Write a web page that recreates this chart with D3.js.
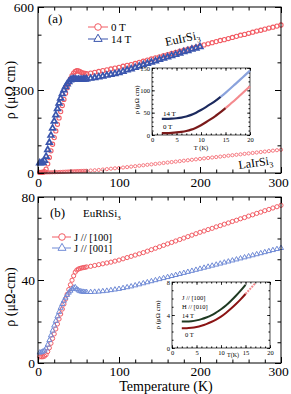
<!DOCTYPE html>
<html>
<head>
<meta charset="utf-8">
<script src="https://cdn.jsdelivr.net/npm/d3@7"></script>
<style>
  body { margin: 0; background: #fff; }
  svg { display: block; }
  text { font-family: "Liberation Serif", "Times New Roman", serif; }
</style>
</head>
<body>
<script>
// temperature grid (K) shared by the main curves
var temps = [2,4,6,8,10,12,14,16,18,20,22,24,26,28,30,32,34,36,38,40,42,44,46,48,50,52,54,56,58,60,
  65,70,75,80,85,90,95,100,105,110,115,120,125,130,135,140,145,150,155,160,165,170,175,180,185,190,195,200,
  205,210,215,220,225,230,235,240,245,250,255,260,265,270,275,280,285,290,295,300];

// (a) EuIrSi3, 0 T
var euIr0T = [2,2,3,5,14,33,56,80,104,128,152,176,199,222,244,266,288,308,326,340,352,361,367,370,369,366,363,361,360,359,
  361,364,367,370,373,376,379,382,386,389,392,396,400,404,408,412,416,420,424,428,432,436,440,444,
  448,451,455,459,463,467,471,475,479,482,486,490,494,498,501,505,509,513,516,520,524,527,531,535];
// (a) EuIrSi3, 14 T (up to 200 K)
var euIr14T = [36,36,38,45,60,84,110,136,162,187,210,232,252,270,286,300,312,322,330,336,339,340,339,338,338,338,338,339,339,340,
  342,344,347,350,353,356,359,362,367,372,376,381,386,391,396,400,405,410,415,419,424,428,433,438,442,447,451,456];
// (a) LaIrSi3
var laIr = [2,2,2,2,2.1,2.2,2.3,2.5,2.7,2.9,3.1,3.3,3.5,3.8,4.1,4.4,4.7,5,5.3,5.6,5.9,6.2,6.5,6.8,7,7.2,7.4,7.6,7.8,8,
  9,10,11,12.5,14,15.5,17,18,19.7,21.3,23,24.6,26.3,27.9,29.6,31.2,32.9,34.5,36.2,37.8,39.5,41.1,42.8,44.4,
  46.1,47.7,49.4,51,52.7,54.3,56,57.6,59.3,60.9,62.6,64.2,65.9,67.5,69.2,70.8,72.5,74.1,75.8,77.4,79.1,80.7,82.4,84];

// (b) EuRhSi3, J // [100] and J // [001]
var euRh100 = [3,3,3,3.3,4,5.5,7.3,9.5,11.8,14,16.4,18.8,21.2,23.6,26,28.4,30.8,33.1,35.4,37.7,39.9,42,43.8,44.8,45.3,45.6,45.8,46,46.1,46.3,
  46.6,47,47.4,47.8,48.2,48.6,49.1,49.6,50.2,50.8,51.4,52,52.6,53.2,53.9,54.6,55.3,56,56.7,57.4,58.1,58.8,59.5,60.2,
  60.9,61.6,62.3,63,63.6,64.3,64.9,65.6,66.2,66.9,67.5,68.2,68.8,69.5,70.1,70.8,71.4,72.1,72.7,73.4,74,74.7,75.3,76];
var euRh001 = [5,5.2,5.5,6,7,8.8,11,13.3,15.6,18,20.3,22.5,24.6,26.6,28.4,30,31.5,32.8,33.9,34.8,35.6,36.3,36.5,35.6,35,34.6,34.4,34.3,34.2,34.2,
  34.2,34.3,34.4,34.6,34.8,35.1,35.4,35.7,36.1,36.5,36.9,37.4,37.9,38.4,38.9,39.4,39.9,40.4,40.9,41.4,41.9,42.4,42.9,43.4,
  43.9,44.4,44.9,45.4,45.9,46.4,46.9,47.4,47.9,48.4,48.9,49.4,49.9,50.4,50.9,51.4,51.9,52.4,52.9,53.4,53.9,54.4,54.9,55.4];

// insets, low temperature
var tInset = [2,3,4,5,6,7,8,9,10,11,12,13,14,15,16,17,18,19,20];
var insA14T = [36,36,36.5,37.5,39,41.5,45,50,56,62.5,69.5,77,85.5,94.5,104,114,124,134,144];
var insA0T = [4,4.2,4.8,5.7,7,9,12,16.5,22,28.5,35.5,43,51,60,69.5,79,89,99,109];
var insB14T = [3.2,3.2,3.25,3.35,3.5,3.7,3.95,4.3,4.7,5.15,5.7,6.3,6.95,7.65];
var insB0T = [2.4,2.4,2.45,2.55,2.7,2.9,3.15,3.45,3.8,4.25,4.75,5.3,5.9,6.55,7.2,7.85];

var xTicks = [0,100,200,300];
var yTicksA = [0,300,600];
var yTicksB = [0,40,80];
var insXTicks = [0,5,10,15,20];

var red = "#f25c64", blue = "#3a55ad", blueB = "#6f8ad6";

var svg = d3.select("body").append("svg").attr("width", 291).attr("height", 394);

var x = d3.scaleLinear().domain([0, 300]).range([38, 281]);
var yA = d3.scaleLinear().domain([0, 600]).range([173, 7]);
var yB = d3.scaleLinear().domain([0, 80]).range([363, 197]);

// draws a box with inward ticks on all four sides
function boxAxes(g, xs, ys, o) {
  var x0 = xs.range()[0], x1 = xs.range()[1], y0 = ys.range()[0], y1 = ys.range()[1];
  g.append("rect").attr("x", x0).attr("y", y1).attr("width", x1 - x0).attr("height", y0 - y1)
    .attr("fill", o.fill || "none").attr("stroke", "#000").attr("stroke-width", o.sw || 1);
  var parts = [
    [d3.axisBottom(xs), "translate(0," + y0 + ")", o.xMajor, o.xMinor, o.xLabels],
    [d3.axisTop(xs), "translate(0," + y1 + ")", o.xMajor, o.xMinor, false],
    [d3.axisLeft(ys), "translate(" + x0 + ",0)", o.yMajor, o.yMinor, true],
    [d3.axisRight(ys), "translate(" + x1 + ",0)", o.yMajor, o.yMinor, false]
  ];
  parts.forEach(function (p) {
    g.append("g").attr("transform", p[1])
      .call(p[0].tickValues(p[3]).tickSize(-o.minor).tickFormat(""))
      .call(function (s) { s.select(".domain").remove(); });
    var ax = g.append("g").attr("transform", p[1])
      .call(p[0].tickValues(p[2]).tickSize(-o.major).tickPadding(o.pad).tickFormat(p[4] ? d3.format("d") : ""));
    ax.select(".domain").remove();
    ax.attr("font-family", "Liberation Serif").attr("font-size", o.fs);
    ax.selectAll("line").attr("stroke-width", o.sw || 1);
  });
}

function circles(g, xs, ys, tv, vals, r, col, sw) {
  g.selectAll(null).data(vals).enter().append("circle")
    .attr("cx", function (d, i) { return xs(tv[i]); })
    .attr("cy", function (d) { return ys(d); })
    .attr("r", r).attr("fill", "none").attr("stroke", col).attr("stroke-width", sw);
}
function triangles(g, xs, ys, tv, vals, size, col, sw) {
  var sym = d3.symbol().type(d3.symbolTriangle).size(size);
  g.selectAll(null).data(vals).enter().append("path")
    .attr("d", sym)
    .attr("transform", function (d, i) { return "translate(" + xs(tv[i]) + "," + ys(d) + ")"; })
    .attr("fill", "none").attr("stroke", col).attr("stroke-width", sw);
}

// ---------- panel (a) ----------
var ga = svg.append("g");
circles(ga, x, yA, temps, laIr, 1.6, red, 0.8);
circles(ga, x, yA, temps, euIr0T, 2.1, red, 1.1);
triangles(ga, x, yA, temps, euIr14T, 14, blue, 1.7);
boxAxes(ga, x, yA, { xMajor: xTicks, xMinor: d3.range(0, 301, 20), yMajor: yTicksA, yMinor: d3.range(0, 601, 100),
  major: 6, minor: 3.5, pad: 4, fs: 13.5, xLabels: true });
ga.selectAll(".tick text").filter(function (d) { return d === 300 && this.getAttribute("dy") === "0.71em"; }).attr("dx", -3);

ga.append("text").attr("x", 48).attr("y", 23).attr("font-size", 13).text("(a)");
// legend
ga.append("line").attr("x1", 88).attr("x2", 108).attr("y1", 27).attr("y2", 27).attr("stroke", red);
ga.append("circle").attr("cx", 98).attr("cy", 27).attr("r", 3.3).attr("fill", "#fff").attr("stroke", red);
ga.append("text").attr("x", 111).attr("y", 30.5).attr("font-size", 11).text("0 T");
ga.append("line").attr("x1", 88).attr("x2", 108).attr("y1", 39).attr("y2", 39).attr("stroke", blue);
ga.append("path").attr("d", d3.symbol().type(d3.symbolTriangle).size(30)).attr("transform", "translate(98,39)")
  .attr("fill", "#fff").attr("stroke", blue);
ga.append("text").attr("x", 111).attr("y", 42.5).attr("font-size", 11).text("14 T");

var tEu = ga.append("text").attr("transform", "translate(166,46) rotate(-12)").attr("font-size", 12);
tEu.append("tspan").text("EuIrSi");
tEu.append("tspan").attr("font-size", 8).attr("dy", 3).text("3");
var tLa = ga.append("text").attr("transform", "translate(239,169) rotate(-8)").attr("font-size", 12);
tLa.append("tspan").text("LaIrSi");
tLa.append("tspan").attr("font-size", 8).attr("dy", 3).text("3");

ga.append("text").attr("transform", "translate(15,90) rotate(-90)").attr("text-anchor", "middle")
  .attr("font-size", 14).text("ρ (μΩ cm)");

// inset (a)
var xIa = d3.scaleLinear().domain([0, 20]).range([152, 250]);
var yIa = d3.scaleLinear().domain([0, 150]).range([135, 68]);
var gia = svg.append("g");
boxAxes(gia, xIa, yIa, { xMajor: insXTicks, xMinor: d3.range(0, 21, 1), yMajor: [0, 50, 100, 150], yMinor: d3.range(0, 151, 10),
  major: 3, minor: 1.5, pad: 2, fs: 6.5, xLabels: true, fill: "#fff", sw: 0.7 });
var lineA = d3.line().x(function (d) { return xIa(d[0]); }).y(function (d) { return yIa(d[1]); }).curve(d3.curveMonotoneX);
var a14 = tInset.map(function (t, i) { return [t, insA14T[i]]; });
var a0 = tInset.map(function (t, i) { return [t, insA0T[i]]; });
gia.append("path").attr("d", lineA(a14.filter(function (d) { return d[0] >= 14; }))).attr("fill", "none").attr("stroke", "#8aa2dc").attr("stroke-width", 2.2);
gia.append("path").attr("d", lineA(a14.filter(function (d) { return d[0] <= 14; }))).attr("fill", "none").attr("stroke", "#1c2a5e").attr("stroke-width", 2.2);
gia.append("path").attr("d", lineA(a0.filter(function (d) { return d[0] >= 15; }))).attr("fill", "none").attr("stroke", "#f48a8e").attr("stroke-width", 2.2);
gia.append("path").attr("d", lineA(a0.filter(function (d) { return d[0] <= 15; }))).attr("fill", "none").attr("stroke", "#7a1a1a").attr("stroke-width", 2.2);
gia.append("text").attr("x", 163).attr("y", 116).attr("font-size", 7).text("14 T");
gia.append("text").attr("x", 163).attr("y", 129).attr("font-size", 7).text("0 T");
gia.append("text").attr("x", 201).attr("y", 150).attr("text-anchor", "middle").attr("font-size", 6.5).text("T (K)");
gia.append("text").attr("transform", "translate(139,100) rotate(-90)").attr("text-anchor", "middle")
  .attr("font-size", 7).text("ρ (μΩ cm)");

// ---------- panel (b) ----------
var gb = svg.append("g");
circles(gb, x, yB, temps, euRh100, 2.1, red, 1);
triangles(gb, x, yB, temps, euRh001, 11, blueB, 1);
boxAxes(gb, x, yB, { xMajor: xTicks, xMinor: d3.range(0, 301, 20), yMajor: yTicksB, yMinor: d3.range(0, 81, 10),
  major: 6, minor: 3.5, pad: 3, fs: 13.5, xLabels: true });
gb.selectAll(".tick text").filter(function (d) { return d === 300 && this.getAttribute("dy") === "0.71em"; }).attr("dx", -3);

gb.append("text").attr("x", 50).attr("y", 217).attr("font-size", 13).text("(b)");
var tRh = gb.append("text").attr("x", 83).attr("y", 217).attr("font-size", 11);
tRh.append("tspan").text("EuRhSi");
tRh.append("tspan").attr("font-size", 7).attr("dy", 3).text("3");
gb.append("line").attr("x1", 52).attr("x2", 71).attr("y1", 237).attr("y2", 237).attr("stroke", red);
gb.append("circle").attr("cx", 62).attr("cy", 237).attr("r", 3.3).attr("fill", "#fff").attr("stroke", red);
gb.append("text").attr("x", 74).attr("y", 240.5).attr("font-size", 10.5).text("J // [100]");
gb.append("line").attr("x1", 52).attr("x2", 71).attr("y1", 248).attr("y2", 248).attr("stroke", blueB);
gb.append("path").attr("d", d3.symbol().type(d3.symbolTriangle).size(28)).attr("transform", "translate(62,248)")
  .attr("fill", "#fff").attr("stroke", blueB);
gb.append("text").attr("x", 74).attr("y", 251.5).attr("font-size", 10.5).text("J // [001]");

gb.append("text").attr("transform", "translate(15,297) rotate(-90)").attr("text-anchor", "middle")
  .attr("font-size", 14).text("ρ (μΩ-cm)");
gb.append("text").attr("x", 166).attr("y", 390.5).attr("text-anchor", "middle").attr("font-size", 14).text("Temperature (K)");

// inset (b)
var xIb = d3.scaleLinear().domain([0, 20]).range([172, 270]);
var yIb = d3.scaleLinear().domain([0, 8]).range([348, 282]);
var gib = svg.append("g");
boxAxes(gib, xIb, yIb, { xMajor: insXTicks, xMinor: d3.range(0, 21, 1), yMajor: [0, 4, 8], yMinor: d3.range(0, 8.01, 1),
  major: 3, minor: 1.5, pad: 2, fs: 6.5, xLabels: true, fill: "#fff", sw: 0.7 });
var lineB = d3.line().x(function (d) { return xIb(d[0]); }).y(function (d) { return yIb(d[1]); }).curve(d3.curveMonotoneX);
var b14 = insB14T.map(function (v, i) { return [tInset[i], v]; });
var b0 = insB0T.map(function (v, i) { return [tInset[i], v]; });
gib.append("path").attr("d", lineB(b0.filter(function (d) { return d[0] >= 15; }))).attr("fill", "none")
  .attr("stroke", "#f48a8e").attr("stroke-width", 2).attr("stroke-dasharray", "2,1");
gib.append("path").attr("d", lineB(b0.filter(function (d) { return d[0] <= 15; }))).attr("fill", "none").attr("stroke", "#8b1414").attr("stroke-width", 2);
gib.append("path").attr("d", lineB(b14)).attr("fill", "none").attr("stroke", "#1f3a22").attr("stroke-width", 2);
gib.append("text").attr("x", 182).attr("y", 300).attr("font-size", 6.5).text("J // [100]");
gib.append("text").attr("x", 182).attr("y", 309).attr("font-size", 6.5).text("H // [010]");
gib.append("text").attr("x", 182).attr("y", 318).attr("font-size", 6.5).text("14 T");
gib.append("text").attr("x", 185).attr("y", 337).attr("font-size", 6.5).text("0 T");
gib.append("text").attr("x", 233).attr("y", 357).attr("text-anchor", "middle").attr("font-size", 6).text("T(K)");
gib.append("text").attr("transform", "translate(160,315) rotate(-90)").attr("text-anchor", "middle")
  .attr("font-size", 7).text("ρ (μΩ cm)");
</script>
</body>
</html>
